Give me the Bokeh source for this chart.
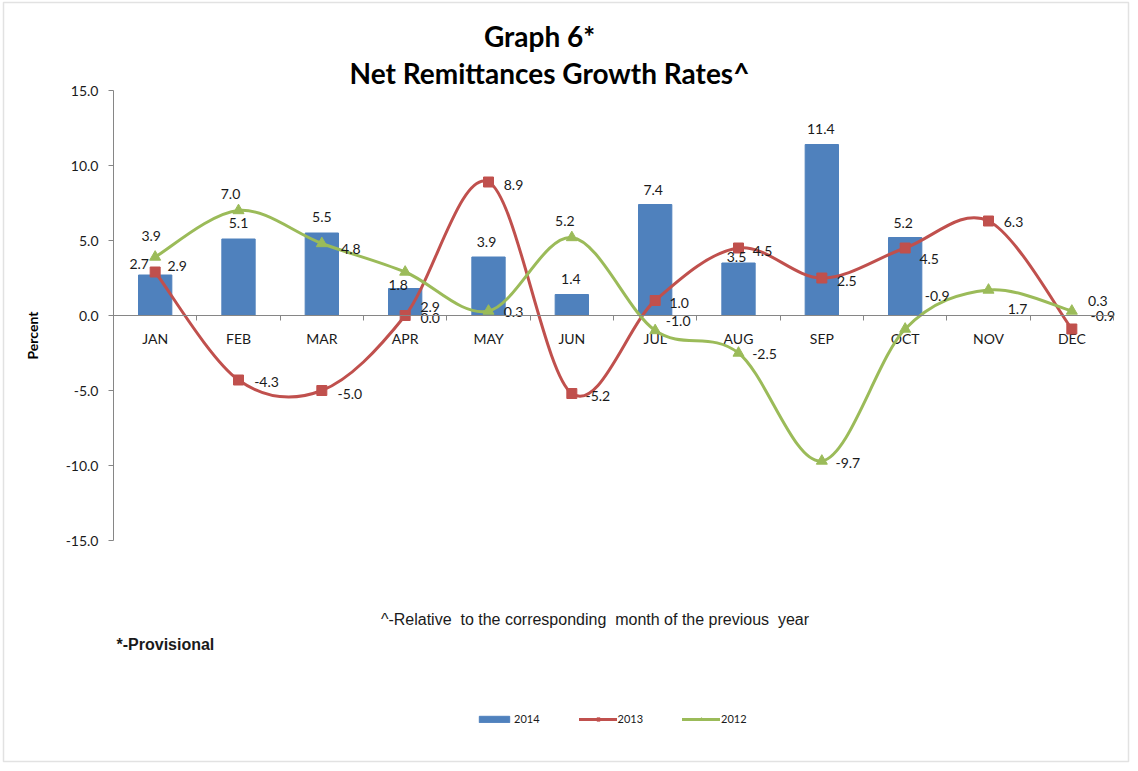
import math
from bokeh.plotting import figure
from bokeh.models import (Range1d, LinearAxis, FixedTicker, PrintfTickFormatter,
                          ColumnDataSource, Label, Legend, LegendItem, BoxAnnotation)
from bokeh.core.properties import value
from bokeh.embed import file_html
from bokeh.resources import INLINE

# ---------------- data ----------------
months = ["JAN", "FEB", "MAR", "APR", "MAY", "JUN", "JUL", "AUG", "SEP", "OCT", "NOV", "DEC"]
g2014 = [2.7, 5.1, 5.5, 1.8, 3.9, 1.4, 7.4, 3.5, 11.4, 5.2]          # JAN-OCT only
g2013 = [2.9, -4.3, -5.0, 0.0, 8.9, -5.2, 1.0, 4.5, 2.5, 4.5, 6.3, -0.9]
g2012 = [3.9, 7.0, 4.8, 2.9, 0.3, 5.2, -1.0, -2.5, -9.7, -0.9, 1.7, 0.3]
y_ticks = [-15, -10, -5, 0, 5, 10, 15]

# data-label placement offsets in screen pixels (dx, dy; dy positive = down)
off2014 = [(-16, -11.5), (0, -16), (0, -16), (-7, -4), (-2, -15.5), (-1, -16),
           (-2, -15), (-2, -6), (-1, -16), (-2, -15)]
off2013 = [(22, -6.5), (28, 2), (28, 3), (25, 2), (25, 2.5), (26, 2), (24, 2),
           (24, 2.5), (25, 2.5), (24, 10.5), (25, 1), (31, -13.5)]
off2012 = [(-4, -21.5), (-8, -17), (29, 5), (25, 35), (25, 1), (-7, -17), (23, -10),
           (26, 1), (26, 2), (32, -33), (29, 19), (26, -10.5)]

C14, C13, C12 = "#4F81BD", "#C0504D", "#9BBB59"
TXT = "#1a1a1a"
AX = "#868686"

# ---------------- geometry ----------------
W, H = 1130, 763
PLOT_L, PLOT_R = 113, 1113      # pixel extent of categories 0..12
PLOT_T, PLOT_B = 90, 540        # pixel extent of -15..15
XS = 12.0 / (PLOT_R - PLOT_L)
YS = 30.0 / (PLOT_B - PLOT_T)
Y0 = (PLOT_T + PLOT_B) / 2.0


def px_x(px):
    return (px - PLOT_L) * XS


def px_y(py):
    return (Y0 - py) * YS


p = figure(width=W, height=H,
           x_range=Range1d(px_x(0), px_x(W)), y_range=Range1d(px_y(H), px_y(0)),
           output_backend="svg", toolbar_location=None,
           x_axis_type=None, y_axis_type=None, min_border=0)
p.outline_line_color = None
p.grid.visible = False
p.background_fill_color = "white"
p.border_fill_color = "white"

# chart-area border
p.add_layout(BoxAnnotation(left=px_x(3), right=px_x(W - 2), top=px_y(2), bottom=px_y(H - 2),
                           fill_color=None, fill_alpha=0, line_color="#a0a0a0", line_width=1.5,
                           level="underlay"))

# y axis (fixed at x = 0, limited to -15..15)
yax = LinearAxis(ticker=FixedTicker(ticks=y_ticks), formatter=PrintfTickFormatter(format="%.1f"),
                 fixed_location=0, bounds=(-15, 15))
yax.axis_line_color = AX
yax.major_tick_line_color = AX
yax.major_tick_in = 0
yax.major_tick_out = 5
yax.minor_tick_line_color = None
yax.major_label_standoff = 10
yax.major_label_text_font = "Lato"
yax.major_label_text_font_size = "14px"
yax.major_label_text_color = TXT
p.add_layout(yax, "left")

# x axis at zero with boundary ticks
xax = LinearAxis(ticker=FixedTicker(ticks=list(range(13))), fixed_location=0, bounds=(0, 12))
xax.axis_line_color = AX
xax.major_tick_line_color = AX
xax.major_tick_in = 0
xax.major_tick_out = 5
xax.minor_tick_line_color = None
xax.major_label_text_color = None
xax.major_label_text_font_size = "1px"
p.add_layout(xax, "below")

xc = [i + 0.5 for i in range(len(months))]

# month labels
p.text(x=xc, y=[0] * len(months), text=months, y_offset=23,
       text_align="center", text_baseline="middle",
       text_font=value("Lato"), text_font_size="14px", text_color=TXT)

# bars 2014
src14 = ColumnDataSource(dict(x=xc[:len(g2014)], top=g2014))
r14 = p.vbar(x="x", top="top", bottom=0, width=0.4, source=src14,
             fill_color=C14, line_color=C14)


def bezier_segments(xs, ys):
    n = len(xs)
    d = dict(x0=[], y0=[], x1=[], y1=[], cx0=[], cy0=[], cx1=[], cy1=[])
    for i in range(n - 1):
        xm, ym = (xs[i - 1], ys[i - 1]) if i > 0 else (xs[i], ys[i])
        xp, yp = (xs[i + 2], ys[i + 2]) if i + 2 < n else (xs[i + 1], ys[i + 1])
        d["x0"].append(xs[i]); d["y0"].append(ys[i])
        d["x1"].append(xs[i + 1]); d["y1"].append(ys[i + 1])
        d["cx0"].append(xs[i] + (xs[i + 1] - xm) / 6.0)
        d["cy0"].append(ys[i] + (ys[i + 1] - ym) / 6.0)
        d["cx1"].append(xs[i + 1] - (xp - xs[i]) / 6.0)
        d["cy1"].append(ys[i + 1] - (yp - ys[i]) / 6.0)
    return ColumnDataSource(d)


def smooth_series(ys, color, marker, size):
    bz = p.bezier(x0="x0", y0="y0", x1="x1", y1="y1", cx0="cx0", cy0="cy0", cx1="cx1", cy1="cy1",
                  source=bezier_segments(xc, ys), line_color=color, line_width=3, line_cap="round")
    mk = p.scatter(x=xc, y=ys, marker=marker, size=size, fill_color=color, line_color=color)
    return bz, mk


b13, s13 = smooth_series(g2013, C13, "square", 10)
b12, s12 = smooth_series(g2012, C12, "triangle", 11)


def add_labels(xs, ys, offs):
    src = ColumnDataSource(dict(x=xs, y=ys, t=["%.1f" % v for v in ys],
                                dx=[o[0] for o in offs], dy=[o[1] for o in offs]))
    p.text(x="x", y="y", text="t", x_offset="dx", y_offset="dy", source=src,
           text_align="center", text_baseline="middle",
           text_font=value("Lato"), text_font_size="14px", text_color=TXT)


add_labels(xc[:len(g2014)], g2014, off2014)
add_labels(xc, g2013, off2013)
add_labels(xc, g2012, off2012)

legend = Legend(items=[LegendItem(label="2014", renderers=[r14]),
                       LegendItem(label="2013", renderers=[b13, s13]),
                       LegendItem(label="2012", renderers=[b12, s12])],
                orientation="horizontal", location=(475, H - 725),
                glyph_width=38, glyph_height=8, label_height=12, label_width=20,
                label_standoff=1, spacing=39, padding=0, margin=0,
                border_line_color=None, background_fill_alpha=0,
                label_text_font="Lato", label_text_font_size="11px", label_text_color=TXT)
p.add_layout(legend, "center")

# titles and notes
p.add_layout(Label(x=px_x(539), y=px_y(35), text="Graph 6*", text_align="center",
                   text_baseline="middle", text_font="Lato", text_font_style="bold",
                   text_font_size="28px", text_color="black"))
p.add_layout(Label(x=px_x(549), y=px_y(72), text="Net Remittances Growth Rates^",
                   text_align="center", text_baseline="middle", text_font="Lato",
                   text_font_style="bold", text_font_size="28px", text_color="black"))
p.add_layout(Label(x=px_x(32), y=px_y(335), text="Percent", angle=math.pi / 2,
                   text_align="center", text_baseline="middle", text_font="Lato",
                   text_font_style="bold", text_font_size="14px", text_color="black"))
p.add_layout(Label(x=px_x(594.5), y=px_y(619),
                   text="^-Relative \u00a0to the corresponding \u00a0month of the previous \u00a0year",
                   text_align="center", text_baseline="middle", text_font="Liberation Sans",
                   text_font_size="16px", text_color=TXT))
p.add_layout(Label(x=px_x(116), y=px_y(644), text="*-Provisional",
                   text_align="left", text_baseline="middle", text_font="Liberation Sans",
                   text_font_style="bold", text_font_size="16px", text_color=TXT))

open("out.html", "w").write(file_html(p, INLINE))
